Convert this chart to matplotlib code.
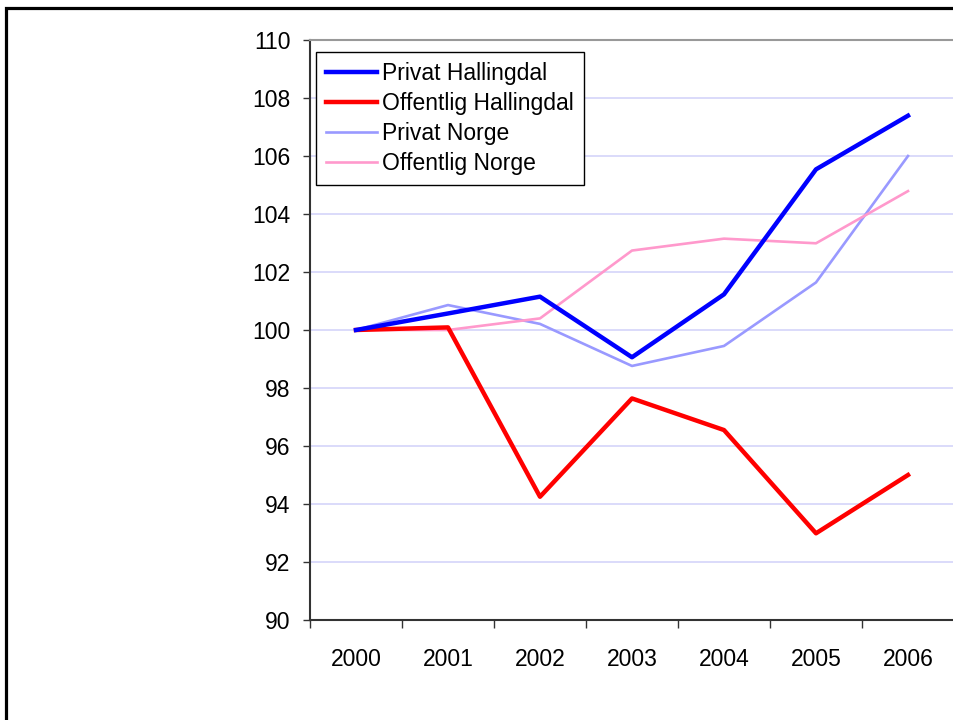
import matplotlib
matplotlib.use("Agg")
import matplotlib.pyplot as plt
from matplotlib.patches import Rectangle
import numpy as np

years = ["2000", "2001", "2002", "2003", "2004", "2005", "2006"]
privat_hallingdal = [100.0, 100.57, 101.15, 99.06, 101.23, 105.54, 107.39]
offentlig_hallingdal = [100.0, 100.09, 94.25, 97.64, 96.55, 92.99, 95.0]
privat_norge = [100.0, 100.86, 100.21, 98.76, 99.45, 101.64, 106.0]
offentlig_norge = [100.0, 100.0, 100.40, 102.74, 103.15, 102.99, 104.79]
y_ticks = [90, 92, 94, 96, 98, 100, 102, 104, 106, 108, 110]

plt.rcParams['font.family'] = ['Liberation Sans', 'DejaVu Sans']
FS = 16.5

fig = plt.figure(figsize=(9.54, 7.2), dpi=100)
ax = fig.add_axes([310/954, 1-620/720, 1-310/954, (620-40)/720])

x = np.arange(len(years))
ax.plot(x, privat_hallingdal, color='#0000FF', lw=3.2, label='Privat Hallingdal', zorder=5)
ax.plot(x, offentlig_hallingdal, color='#FF0000', lw=3.2, label='Offentlig Hallingdal', zorder=4)
ax.plot(x, privat_norge, color='#9999FF', lw=1.9, label='Privat Norge', zorder=3)
ax.plot(x, offentlig_norge, color='#FF99CC', lw=1.9, label='Offentlig Norge', zorder=3)

ax.set_xlim(-0.5, len(years) - 0.5)
ax.set_ylim(90, 110)
ax.set_yticks(y_ticks)
ax.set_yticklabels([str(v) for v in y_ticks], fontsize=FS)
ax.set_xticks(x)
ax.set_xticklabels(years, fontsize=FS)
ax.set_xticks(np.arange(-0.5, len(years)), minor=True)
ax.tick_params(axis='x', which='major', length=0, pad=20.5)
ax.tick_params(axis='x', which='minor', length=6, width=1, color='#333333', direction='out')
ax.tick_params(axis='y', which='major', length=5, width=1, color='#333333', pad=9)

ax.grid(axis='y', color='#D4D4FA', lw=1.2, zorder=0)
ax.set_axisbelow(True)

for s in ['left', 'bottom']:
    ax.spines[s].set_color('#333333')
    ax.spines[s].set_linewidth(1.5)
ax.spines['top'].set_color('#999999')
ax.spines['top'].set_linewidth(1.5)
ax.spines['right'].set_visible(False)

leg = ax.legend(loc='upper left', bbox_to_anchor=(316/954, 1-52/720),
                bbox_transform=fig.transFigure, fontsize=FS, frameon=True,
                fancybox=False, framealpha=1, edgecolor='black',
                handlelength=2.2, handletextpad=0.22, labelspacing=0.30,
                borderpad=0.45, borderaxespad=0)
leg.get_frame().set_linewidth(1.0)

fig.patches.append(Rectangle((6.5/954, -0.1), 1.2, 1.1 - 7.5/720,
                             transform=fig.transFigure, fill=False,
                             edgecolor='black', lw=2.3, zorder=10))

fig.savefig('out.png', dpi=100)
